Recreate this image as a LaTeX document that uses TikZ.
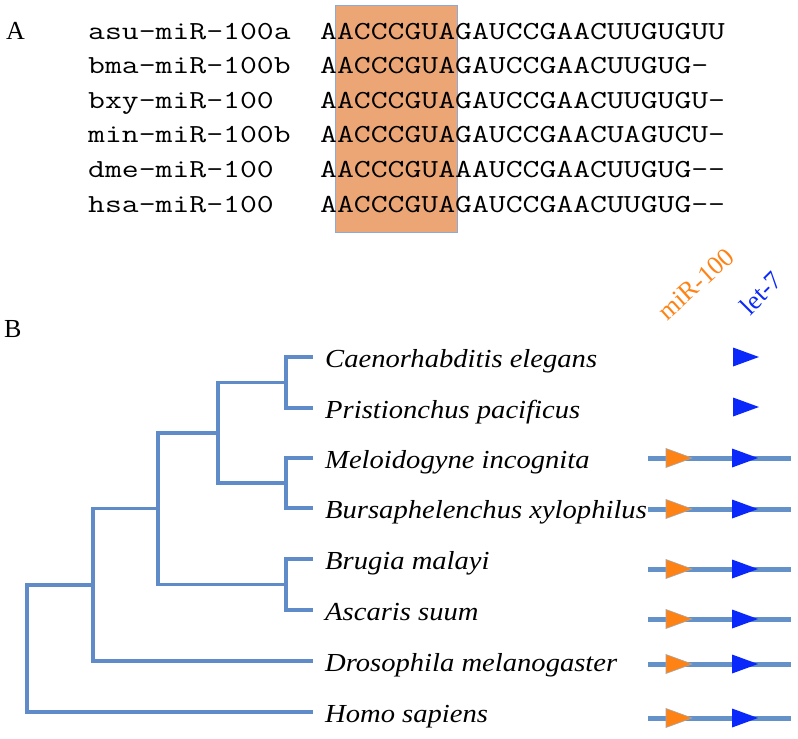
\documentclass[tikz,border=0pt]{standalone}
\usepackage{fontspec}
\usepackage{graphicx}
\setmainfont{Liberation Serif}
\newfontfamily\spitf[FakeStretch=1.1]{Liberation Serif Italic}
\definecolor{treeblue}{RGB}{95,140,200}
\definecolor{genebl}{RGB}{100,145,200}
\definecolor{seedfill}{RGB}{236,166,117}
\definecolor{seedline}{RGB}{140,170,215}
\definecolor{mirorange}{RGB}{255,130,20}
\definecolor{letblue}{RGB}{10,40,250}
\newcommand{\seqbox}[1]{\scalebox{1.26}[1]{#1}}
\tikzset{
  seqtext/.style={anchor=base west,inner sep=0pt,font=\ttfamily\fontsize{26}{30}\selectfont},
  panellab/.style={anchor=base west,inner sep=0pt,font=\fontsize{26}{30}\selectfont},
  species/.style={anchor=base west,inner sep=0pt,font=\spitf\fontsize{26}{30}\selectfont},
  treeline/.style={draw=treeblue,line width=3.5pt},
  geneline/.style={draw=genebl,line width=5pt},
  tri/.pic={\path[pic actions] (-13,-9.5) -- (13,0) -- (-13,9.5) -- cycle;},
  mirtri/.style={fill=mirorange,draw=gray!70,line width=0.6pt},
  lettri/.style={fill=letblue},
}
\begin{document}
\begin{tikzpicture}[x=1pt,y=-1pt]
\useasboundingbox (0,0) rectangle (798,739);
% ---------- Panel A ----------
\node[panellab] (labA) at (6,39) {A};
\node[draw=seedline,fill=seedfill,line width=1.2pt,minimum width=122pt,minimum height=227pt,anchor=north west,inner sep=0pt] (seed) at (335,5) {};
\foreach \i/\lab/\seq in {0/asu-miR-100a/AACCCGUAGAUCCGAACUUGUGUU,
                          1/bma-miR-100b/AACCCGUAGAUCCGAACUUGUG—,
                          2/bxy-miR-100/AACCCGUAGAUCCGAACUUGUGU-,
                          3/min-miR-100b/AACCCGUAGAUCCGAACUAGUCU-,
                          4/dme-miR-100/AACCCGUAAAUCCGAACUUGUG-\kern0pt-,
                          5/hsa-miR-100/AACCCGUAGAUCCGAACUUGUG-\kern0pt-}{
  \node[seqtext] (lab\i) at (88,{39+34.6*\i}) {\seqbox{\lab}};
  \node[seqtext] (seq\i) at (320,{39+34.6*\i}) {\seqbox{\seq}};
}
% ---------- Panel B ----------
\node[panellab] (labB) at (4,337) {B};
% leaf tips
\coordinate (tC) at (313,357);
\coordinate (tP) at (313,408);
\coordinate (tM) at (313,458);
\coordinate (tB) at (313,508);
\coordinate (tBr) at (313,559);
\coordinate (tA) at (313,610);
\coordinate (tD) at (313,661);
\coordinate (tH) at (313,712);
% internal nodes
\coordinate (nCP) at (286,382.5);
\coordinate (nMB) at (286,483);
\coordinate (nBA) at (286,584.5);
\coordinate (nCPMB) at (218,432.75);
\coordinate (nNem) at (158,508.6);
\coordinate (nIns) at (93,584.8);
\coordinate (nRoot) at (27,648.4);
\draw[treeline] (tC) -| (nCP) |- (tP);
\draw[treeline] (tM) -| (nMB) |- (tB);
\draw[treeline] (tBr) -| (nBA) |- (tA);
\draw[treeline] (nCP) -| (nCPMB) |- (nMB);
\draw[treeline] (nCPMB) -| (nNem) |- (nBA);
\draw[treeline] (nNem) -| (nIns) |- (tD);
\draw[treeline] (nIns) -| (nRoot) |- (tH);
% species names
\node[species] (sC) at (325,367) {Caenorhabditis elegans};
\node[species] (sP) at (325,418) {Pristionchus pacificus};
\node[species] (sM) at (325,468) {Meloidogyne incognita};
\node[species] (sB) at (325,518) {Bursaphelenchus xylophilus};
\node[species] (sBr) at (325,569) {Brugia malayi};
\node[species] (sA) at (325,620) {Ascaris suum};
\node[species] (sD) at (325,671) {Drosophila melanogaster};
\node[species] (sH) at (325,722) {Homo sapiens};
% column headers
\node[inner sep=0pt,rotate=42,text=mirorange,font=\fontsize{26}{30}\selectfont] (hmir) at (696,284) {miR-100};
\node[inner sep=0pt,rotate=45,text=letblue,font=\fontsize{26}{30}\selectfont] (hlet) at (761,293) {let-7};
% gene rows
\pic[lettri] at (746,357) {tri};
\pic[lettri] at (746,407) {tri};
\foreach \k/\yy in {M/458,B/509,Br/569,A/619,D/664,H/718}{
  \coordinate (gs\k) at (648,\yy);
  \coordinate (ge\k) at (791,\yy);
  \draw[geneline] (gs\k) -- (ge\k);
  \pic[mirtri] at (679,\yy) {tri};
  \pic[lettri] at (745,\yy) {tri};
}
\end{tikzpicture}
\end{document}
